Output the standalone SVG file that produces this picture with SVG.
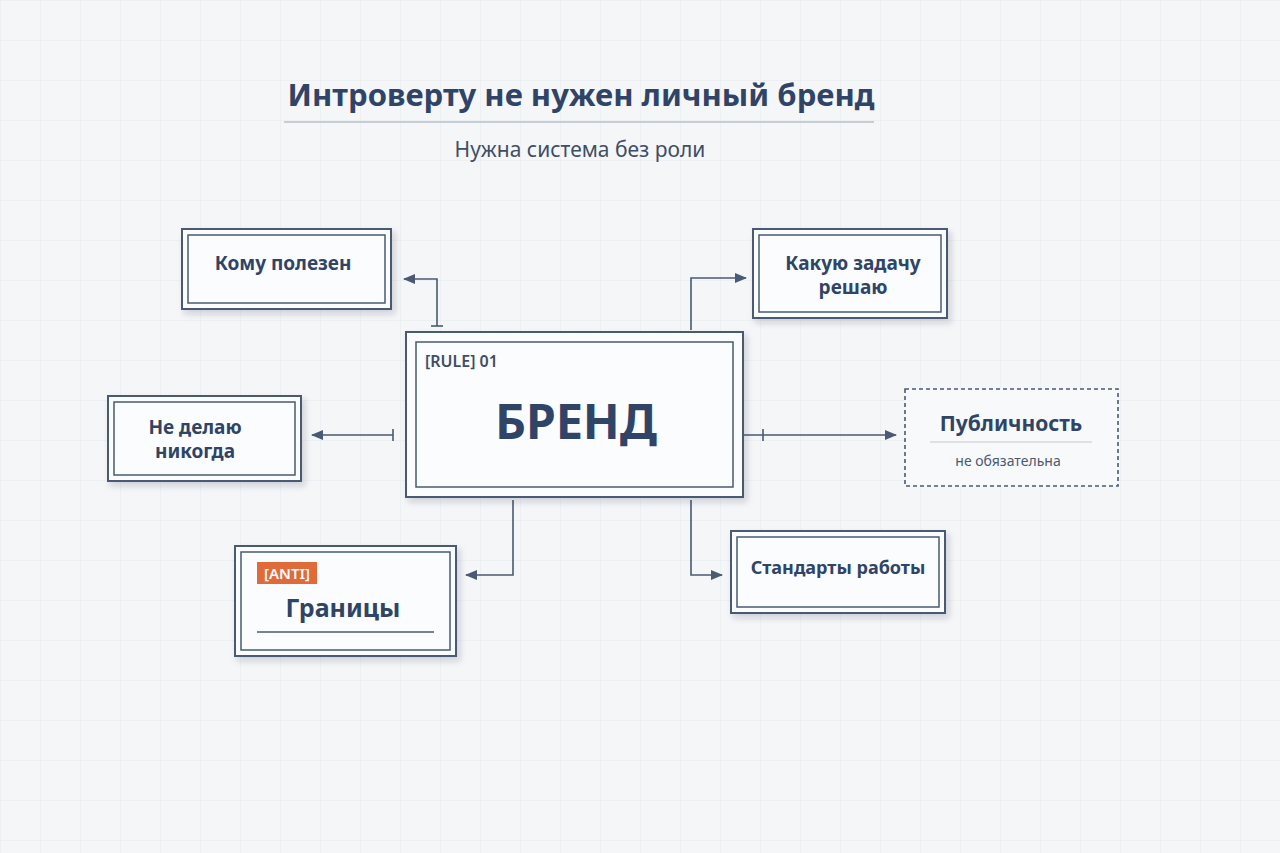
<svg xmlns="http://www.w3.org/2000/svg" width="1280" height="853" viewBox="0 0 1280 853">
<defs>
<pattern id="grid" width="40" height="40" patternUnits="userSpaceOnUse"><path d="M40 0H0V40" fill="none" stroke="#e6e9ee" stroke-width="1"/></pattern>
<marker id="ar" markerWidth="12" markerHeight="10" refX="11" refY="5" orient="auto" markerUnits="userSpaceOnUse"><path d="M0 0L12 5L0 10Z" fill="#4a5a72"/></marker>
<filter id="sh" x="-10%" y="-10%" width="130%" height="140%"><feDropShadow dx="3" dy="4" stdDeviation="3" flood-color="#1e2d45" flood-opacity="0.18"/></filter>
</defs>
<style>
.o{fill:#fbfcfd;stroke:#4a5a72;stroke-width:2;filter:url(#sh)}
.i{fill:none;stroke:#4a5a72;stroke-width:1.5}
.t{font-family:"Noto Sans","Open Sans",sans-serif;font-weight:bold;fill:#2f4466;text-anchor:middle}
.c{fill:none;stroke:#4a5a72;stroke-width:1.6}
</style>
<rect width="1280" height="853" fill="#f5f6f8"/>
<rect width="1280" height="853" fill="url(#grid)"/>
<g id="title">
<text x="581" y="106" class="t" font-size="31">Интроверту не нужен личный бренд</text>
<line x1="284" y1="122" x2="874" y2="122" stroke="#9aa4b2" stroke-width="1.2"/>
<text x="580" y="157" font-family="Noto Sans,sans-serif" font-size="21" fill="#3e4e66" text-anchor="middle">Нужна система без роли</text>
</g>
<g id="connectors">
<path class="c" d="M437 326V279H404" marker-end="url(#ar)"/><line class="c" x1="431" y1="326" x2="443" y2="326"/>
<path class="c" d="M691 330V278H746" marker-end="url(#ar)"/>
<path class="c" d="M393 435H312" marker-end="url(#ar)"/><line class="c" x1="393" y1="429" x2="393" y2="441"/>
<path class="c" d="M743 435H896" marker-end="url(#ar)"/><line class="c" x1="763" y1="429" x2="763" y2="441"/>
<path class="c" d="M513 500V575H466" marker-end="url(#ar)"/>
<path class="c" d="M691 500V575H722" marker-end="url(#ar)"/>
</g>
<g id="center">
<rect class="o" x="406" y="332" width="337" height="165"/>
<rect class="i" x="416" y="342" width="317" height="145"/>
<text x="425" y="367" font-family="Noto Sans,sans-serif" font-weight="600" font-size="16" fill="#3e4e66">[RULE] 01</text>
<text x="576" y="439" class="t" font-size="48">БРЕНД</text>
</g>
<g id="n1">
<rect class="o" x="182" y="229" width="209" height="80"/>
<rect class="i" x="188" y="235" width="197" height="68"/>
<text x="283" y="270" class="t" font-size="19">Кому полезен</text>
</g>
<g id="n2">
<rect class="o" x="753" y="229" width="194" height="89"/>
<rect class="i" x="759" y="235" width="182" height="77"/>
<text x="853" y="270" class="t" font-size="19">Какую задачу</text>
<text x="853" y="294" class="t" font-size="19">решаю</text>
</g>
<g id="n3">
<rect class="o" x="108" y="396" width="193" height="85"/>
<rect class="i" x="114" y="402" width="181" height="73"/>
<text x="195" y="434" class="t" font-size="19">Не делаю</text>
<text x="195" y="458" class="t" font-size="19">никогда</text>
</g>
<g id="n4">
<rect x="905" y="389" width="213" height="97" fill="#f8f9fb" stroke="#4a5a72" stroke-width="1.6" stroke-dasharray="4 3"/>
<text x="1011" y="431" class="t" font-size="21">Публичность</text>
<line x1="930" y1="442" x2="1092" y2="442" stroke="#c3c9d2" stroke-width="1"/>
<text x="1008" y="466" font-family="Noto Sans,sans-serif" font-size="14" fill="#4a5a72" text-anchor="middle">не обязательна</text>
</g>
<g id="n5">
<rect class="o" x="235" y="546" width="221" height="110"/>
<rect class="i" x="241" y="552" width="209" height="98"/>
<rect x="257" y="562" width="60" height="22" fill="#e06a3a"/>
<text x="287" y="579" font-family="Noto Sans,sans-serif" font-weight="600" font-size="15" fill="#fff" text-anchor="middle">[ANTI]</text>
<text x="343" y="617" class="t" font-size="25" font-weight="600">Границы</text>
<line x1="257" y1="632" x2="434" y2="632" stroke="#4a5a72" stroke-width="1.5"/>
</g>
<g id="n6">
<rect class="o" x="731" y="531" width="214" height="82"/>
<rect class="i" x="737" y="537" width="202" height="70"/>
<text x="838" y="574" class="t" font-size="18">Стандарты работы</text>
</g>
</svg>
